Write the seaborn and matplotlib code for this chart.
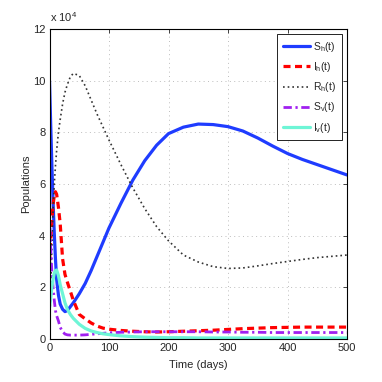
import numpy as np
import pandas as pd
import matplotlib
matplotlib.use("Agg")
import matplotlib.pyplot as plt
import seaborn as sns

# time points (days) and populations in units of 1e4
t = [0, 2, 4, 6, 8, 10, 12, 15, 18, 22, 26, 30, 35, 40, 50, 60, 70, 80, 90, 100,
     120, 140, 160, 180, 200, 225, 250, 275, 300, 325, 350, 375, 400, 425, 450, 475, 500]

S_h = [10.0, 8.3, 6.7, 5.3, 4.1, 3.1, 2.3, 1.7, 1.35, 1.15, 1.06, 1.1, 1.25, 1.4, 1.75, 2.15, 2.65, 3.2, 3.75, 4.3,
       5.25, 6.15, 6.9, 7.5, 7.95, 8.2, 8.32, 8.3, 8.22, 8.05, 7.78, 7.47, 7.18, 6.95, 6.75, 6.55, 6.35]
I_h = [3.0, 3.8, 4.6, 5.2, 5.55, 5.7, 5.6, 5.1, 4.45, 3.1, 2.5, 2.2, 1.85, 1.5, 0.95, 0.78, 0.62, 0.5, 0.42, 0.38,
       0.33, 0.3, 0.28, 0.27, 0.28, 0.3, 0.32, 0.34, 0.37, 0.4, 0.42, 0.44, 0.45, 0.46, 0.46, 0.46, 0.46]
R_h = [0.0, 2.0, 3.6, 5.0, 6.0, 6.7, 7.3, 8.0, 8.5, 9.1, 9.55, 9.85, 10.15, 10.28, 10.2, 9.8, 9.25, 8.7, 8.2, 7.7,
       6.75, 5.85, 5.05, 4.35, 3.8, 3.25, 2.98, 2.8, 2.73, 2.75, 2.83, 2.92, 3.0, 3.08, 3.15, 3.2, 3.25]
S_v = [5.0, 3.5, 2.6, 2.0, 1.5, 1.1, 0.9, 0.7, 0.45, 0.28, 0.19, 0.16, 0.15, 0.15, 0.15, 0.16, 0.18, 0.2, 0.22, 0.24,
       0.26, 0.27, 0.28, 0.28, 0.28, 0.28, 0.28, 0.27, 0.27, 0.26, 0.26, 0.25, 0.25, 0.25, 0.25, 0.25, 0.25]
I_v = [1.2, 1.6, 2.0, 2.3, 2.55, 2.65, 2.67, 2.45, 2.1, 1.75, 1.4, 1.15, 0.95, 0.8, 0.57, 0.41, 0.31, 0.25, 0.2, 0.17,
       0.12, 0.09, 0.07, 0.06, 0.05, 0.05, 0.04, 0.04, 0.04, 0.04, 0.04, 0.04, 0.04, 0.04, 0.04, 0.04, 0.04]

labels = ["S$_h$(t)", "I$_h$(t)", "R$_h$(t)", "S$_v$(t)", "I$_v$(t)"]
x_ticks = [0, 100, 200, 300, 400, 500]
y_ticks = [0, 2, 4, 6, 8, 10, 12]

sns.set_style("white")
plt.rcParams["font.family"] = ["Liberation Sans", "DejaVu Sans"]
plt.rcParams["mathtext.default"] = "regular"

df = pd.DataFrame({"t": t, "Sh": S_h, "Ih": I_h, "Rh": R_h, "Sv": S_v, "Iv": I_v})

fig = plt.figure(figsize=(3.82, 3.82), dpi=100)
ax = fig.add_axes([0.1296, 0.1126, 0.7788, 0.8115])

styles = [
    ("Sh", "#1f3cff", "-", 2.3),
    ("Ih", "#ff0000", (0, (2.2, 1.4)), 2.3),
    ("Rh", "#333333", (0, (1, 1.8)), 1.2),
    ("Sv", "#a020f0", (0, (3, 1.3, 0.8, 1.3)), 2.0),
    ("Iv", "#6ef5d6", "-", 2.3),
]
for (col, color, ls, lw), lab in zip(styles, labels):
    sns.lineplot(data=df, x="t", y=col, ax=ax, color=color, linestyle=ls,
                 linewidth=lw, label=lab)

ax.set_xlim(0, 500)
ax.set_ylim(0, 12)
ax.set_xticks(x_ticks)
ax.set_yticks(y_ticks)
ax.grid(True, linestyle=(0, (1, 3.5)), color="#bdbdbd", linewidth=0.7)
ax.tick_params(direction="in", top=True, right=True, length=3, width=0.6,
               labelsize=8, pad=3)
for s in ax.spines.values():
    s.set_linewidth(0.8)
    s.set_color("black")

ax.set_xlabel("Time (days)", fontsize=8, labelpad=5)
ax.set_ylabel("Populations", fontsize=8, labelpad=1)
ax.text(0.0, 1.015, "x 10$^4$", transform=ax.transAxes, fontsize=8,
        ha="left", va="bottom")

leg = ax.legend(loc="upper right", bbox_to_anchor=(0.983, 0.984), borderaxespad=0,
                fontsize=7.5, handlelength=2.6, labelspacing=0.6, fancybox=False,
                framealpha=1, edgecolor="black", borderpad=0.55, handletextpad=0.3)
leg.get_frame().set_linewidth(0.6)

fig.savefig("out.png", dpi=100)
